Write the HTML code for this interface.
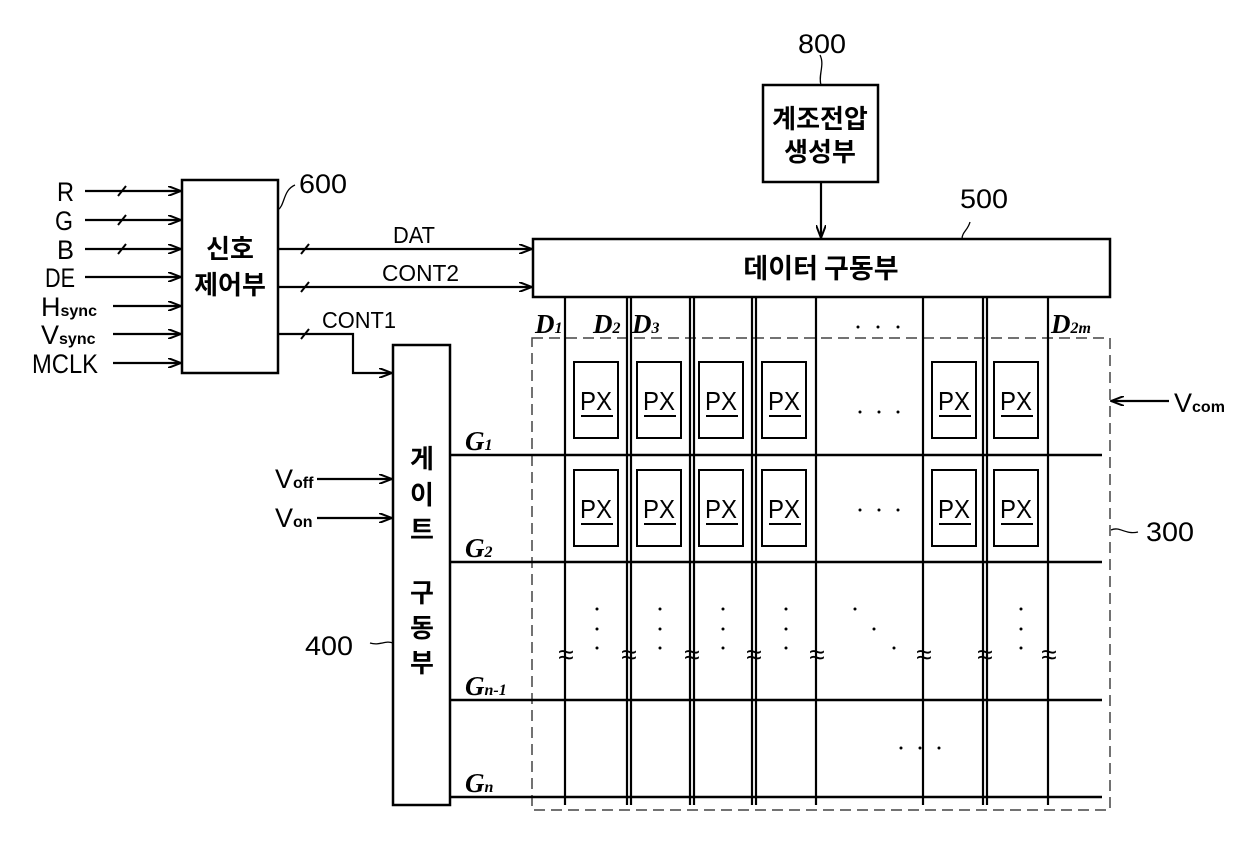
<!DOCTYPE html>
<html><head><meta charset="utf-8"><style>
html,body{margin:0;padding:0;background:#fff;}
svg{display:block;}
text{font-family:"Liberation Sans","Noto Sans CJK KR",sans-serif;fill:#000;}
.k{font-family:"Noto Sans CJK KR","NanumGothic",sans-serif;font-weight:bold;}
.it{font-family:"Liberation Serif",serif;font-style:italic;font-weight:bold;}
</style></head><body>
<svg width="1240" height="842" viewBox="0 0 1240 842" xmlns="http://www.w3.org/2000/svg">
<defs>
<marker id="a" markerWidth="14" markerHeight="10" refX="13" refY="5" orient="auto" markerUnits="userSpaceOnUse">
<path d="M0,0 L13,5 L0,10" fill="none" stroke="#000" stroke-width="2"/>
</marker>
</defs>
<g stroke="#000" stroke-width="2.5" fill="none">
<rect x="182" y="180" width="96" height="193"/>
<rect x="763" y="85" width="115" height="97"/>
<rect x="533" y="239" width="577" height="58"/>
<rect x="393" y="345" width="57" height="460"/>
</g>
<g stroke="#000" stroke-width="2.2" fill="none" marker-end="url(#a)">
<line x1="85" y1="191" x2="181" y2="191"/>
<line x1="85" y1="220" x2="181" y2="220"/>
<line x1="85" y1="249" x2="181" y2="249"/>
<line x1="85" y1="277" x2="181" y2="277"/>
<line x1="113" y1="306" x2="181" y2="306"/>
<line x1="113" y1="334" x2="181" y2="334"/>
<line x1="113" y1="363" x2="181" y2="363"/>
<line x1="278" y1="249" x2="532" y2="249"/>
<line x1="278" y1="287" x2="532" y2="287"/>
<polyline points="278,334 353,334 353,373 392,373"/>
<line x1="317" y1="479" x2="392" y2="479"/>
<line x1="317" y1="518" x2="392" y2="518"/>
<line x1="821" y1="182" x2="821" y2="238"/>
<line x1="1169" y1="401" x2="1111" y2="401"/>
</g>
<g stroke="#000" stroke-width="2">
<line x1="118" y1="196" x2="126" y2="186"/>
<line x1="118" y1="225" x2="126" y2="215"/>
<line x1="118" y1="254" x2="126" y2="244"/>
<line x1="301" y1="254" x2="309" y2="244"/>
<line x1="301" y1="292" x2="309" y2="282"/>
<line x1="301" y1="339" x2="309" y2="329"/>
</g>
<g stroke="#000" stroke-width="1.3" fill="none">
<path d="M278,210 C285,205 283,190 295,185"/>
<path d="M821,85 C818,75 825,65 820,55"/>
<path d="M962,239 C962,232 968,230 970,222"/>
<path d="M393,643 C385,640 380,646 370,643"/>
<path d="M1111,530 C1120,526 1125,535 1138,532"/>
</g>
<rect x="532" y="338" width="578" height="472" fill="none" stroke="#444" stroke-width="1.5" stroke-dasharray="11,6"/>
<g stroke="#000" stroke-width="2.5">
<line x1="450" y1="455" x2="1102" y2="455"/>
<line x1="450" y1="562" x2="1102" y2="562"/>
<line x1="450" y1="700" x2="1102" y2="700"/>
<line x1="450" y1="797" x2="1102" y2="797"/>
</g>
<g stroke="#000" stroke-width="2.2">
<line x1="565" y1="297" x2="565" y2="805"/>
<line x1="627" y1="297" x2="627" y2="805"/>
<line x1="631" y1="297" x2="631" y2="805"/>
<line x1="690" y1="297" x2="690" y2="805"/>
<line x1="694" y1="297" x2="694" y2="805"/>
<line x1="752" y1="297" x2="752" y2="805"/>
<line x1="756" y1="297" x2="756" y2="805"/>
<line x1="816" y1="297" x2="816" y2="805"/>
<line x1="923" y1="297" x2="923" y2="805"/>
<line x1="983" y1="297" x2="983" y2="805"/>
<line x1="987" y1="297" x2="987" y2="805"/>
<line x1="1048" y1="297" x2="1048" y2="805"/>
</g>
<g font-size="28" text-anchor="middle" font-family="DejaVu Sans">
<text x="566" y="664">≈</text><text x="629" y="664">≈</text><text x="692" y="664">≈</text>
<text x="754" y="664">≈</text><text x="817" y="664">≈</text><text x="924" y="664">≈</text>
<text x="985" y="664">≈</text><text x="1049" y="664">≈</text>
</g>
<g stroke="#000" stroke-width="2" fill="#fff">
<rect x="574" y="362" width="44" height="76"/><rect x="637" y="362" width="44" height="76"/>
<rect x="699" y="362" width="44" height="76"/><rect x="762" y="362" width="44" height="76"/>
<rect x="932" y="362" width="44" height="76"/><rect x="994" y="362" width="44" height="76"/>
<rect x="574" y="470" width="44" height="76"/><rect x="637" y="470" width="44" height="76"/>
<rect x="699" y="470" width="44" height="76"/><rect x="762" y="470" width="44" height="76"/>
<rect x="932" y="470" width="44" height="76"/><rect x="994" y="470" width="44" height="76"/>
</g>
<g font-size="26" text-anchor="middle">
<text x="596" y="410" textLength="32" lengthAdjust="spacingAndGlyphs">PX</text><text x="659" y="410" textLength="32" lengthAdjust="spacingAndGlyphs">PX</text><text x="721" y="410" textLength="32" lengthAdjust="spacingAndGlyphs">PX</text><text x="784" y="410" textLength="32" lengthAdjust="spacingAndGlyphs">PX</text><text x="954" y="410" textLength="32" lengthAdjust="spacingAndGlyphs">PX</text><text x="1016" y="410" textLength="32" lengthAdjust="spacingAndGlyphs">PX</text>
<text x="596" y="518" textLength="32" lengthAdjust="spacingAndGlyphs">PX</text><text x="659" y="518" textLength="32" lengthAdjust="spacingAndGlyphs">PX</text><text x="721" y="518" textLength="32" lengthAdjust="spacingAndGlyphs">PX</text><text x="784" y="518" textLength="32" lengthAdjust="spacingAndGlyphs">PX</text><text x="954" y="518" textLength="32" lengthAdjust="spacingAndGlyphs">PX</text><text x="1016" y="518" textLength="32" lengthAdjust="spacingAndGlyphs">PX</text>
</g>
<g stroke="#000" stroke-width="2">
<line x1="581" y1="416" x2="613" y2="416"/><line x1="644" y1="416" x2="676" y2="416"/><line x1="706" y1="416" x2="738" y2="416"/><line x1="769" y1="416" x2="801" y2="416"/><line x1="939" y1="416" x2="971" y2="416"/><line x1="1001" y1="416" x2="1033" y2="416"/>
<line x1="581" y1="524" x2="613" y2="524"/><line x1="644" y1="524" x2="676" y2="524"/><line x1="706" y1="524" x2="738" y2="524"/><line x1="769" y1="524" x2="801" y2="524"/><line x1="939" y1="524" x2="971" y2="524"/><line x1="1001" y1="524" x2="1033" y2="524"/>
</g>
<g fill="#000">
<circle cx="858" cy="327" r="1.5"/><circle cx="878" cy="327" r="1.5"/><circle cx="898" cy="327" r="1.5"/>
<circle cx="860" cy="412" r="1.5"/><circle cx="879" cy="412" r="1.5"/><circle cx="898" cy="412" r="1.5"/>
<circle cx="860" cy="510" r="1.5"/><circle cx="879" cy="510" r="1.5"/><circle cx="898" cy="510" r="1.5"/>
<circle cx="597" cy="609" r="1.5"/><circle cx="597" cy="629" r="1.5"/><circle cx="597" cy="648" r="1.5"/>
<circle cx="660" cy="609" r="1.5"/><circle cx="660" cy="629" r="1.5"/><circle cx="660" cy="648" r="1.5"/>
<circle cx="723" cy="609" r="1.5"/><circle cx="723" cy="629" r="1.5"/><circle cx="723" cy="648" r="1.5"/>
<circle cx="786" cy="609" r="1.5"/><circle cx="786" cy="629" r="1.5"/><circle cx="786" cy="648" r="1.5"/>
<circle cx="855" cy="609" r="1.5"/><circle cx="874" cy="629" r="1.5"/><circle cx="894" cy="648" r="1.5"/>
<circle cx="1021" cy="609" r="1.5"/><circle cx="1021" cy="629" r="1.5"/><circle cx="1021" cy="648" r="1.5"/>
<circle cx="901" cy="748" r="1.5"/><circle cx="920" cy="748" r="1.5"/><circle cx="939" cy="748" r="1.5"/>
</g>
<g font-size="27">
<text x="57" y="201" textLength="17" lengthAdjust="spacingAndGlyphs">R</text>
<text x="55" y="230" textLength="18" lengthAdjust="spacingAndGlyphs">G</text>
<text x="57" y="259" textLength="17" lengthAdjust="spacingAndGlyphs">B</text>
<text x="45" y="287" textLength="30" lengthAdjust="spacingAndGlyphs">DE</text>
<text x="41" y="316">H<tspan font-size="16" font-weight="bold">sync</tspan></text>
<text x="41" y="344">V<tspan font-size="16" font-weight="bold">sync</tspan></text>
<text x="32" y="373" textLength="66" lengthAdjust="spacingAndGlyphs">MCLK</text>
<text x="393" y="243" font-size="23" textLength="42" lengthAdjust="spacingAndGlyphs">DAT</text>
<text x="382" y="281" font-size="23" textLength="77" lengthAdjust="spacingAndGlyphs">CONT2</text>
<text x="322" y="328" font-size="23" textLength="74" lengthAdjust="spacingAndGlyphs">CONT1</text>
<text x="299" y="193" textLength="48" lengthAdjust="spacingAndGlyphs">600</text>
<text x="798" y="53" textLength="48" lengthAdjust="spacingAndGlyphs">800</text>
<text x="960" y="208" textLength="48" lengthAdjust="spacingAndGlyphs">500</text>
<text x="305" y="655" textLength="48" lengthAdjust="spacingAndGlyphs">400</text>
<text x="1146" y="541" textLength="48" lengthAdjust="spacingAndGlyphs">300</text>
<text x="275" y="488">V<tspan font-size="16" font-weight="bold">off</tspan></text>
<text x="275" y="527">V<tspan font-size="16" font-weight="bold">on</tspan></text>
<text x="1174" y="412">V<tspan font-size="16" font-weight="bold">com</tspan></text>
</g>
<g class="it" font-size="27">
<text x="535" y="333" class="it">D<tspan font-size="16">1</tspan></text>
<text x="593" y="333" class="it">D<tspan font-size="16">2</tspan></text>
<text x="632" y="333" class="it">D<tspan font-size="16">3</tspan></text>
<text x="1051" y="333" class="it">D<tspan font-size="16">2m</tspan></text>
<text x="465" y="450" class="it">G<tspan font-size="16">1</tspan></text>
<text x="465" y="557" class="it">G<tspan font-size="16">2</tspan></text>
<text x="465" y="695" class="it">G<tspan font-size="16">n-1</tspan></text>
<text x="465" y="792" class="it">G<tspan font-size="16">n</tspan></text>
</g>
<g class="k" font-size="26" text-anchor="middle">
<text x="230" y="258" class="k">신호</text>
<text x="230" y="294" class="k">제어부</text>
<text x="820" y="128" font-size="26" class="k">계조전압</text>
<text x="820" y="161" class="k">생성부</text>
<text x="821" y="278" font-size="27" class="k">데이터 구동부</text>
<text x="422" y="468" class="k">게</text>
<text x="422" y="504" class="k">이</text>
<text x="422" y="539" class="k">트</text>
<text x="422" y="602" class="k">구</text>
<text x="422" y="637" class="k">동</text>
<text x="422" y="672" class="k">부</text>
</g>
</svg>
</body></html>
